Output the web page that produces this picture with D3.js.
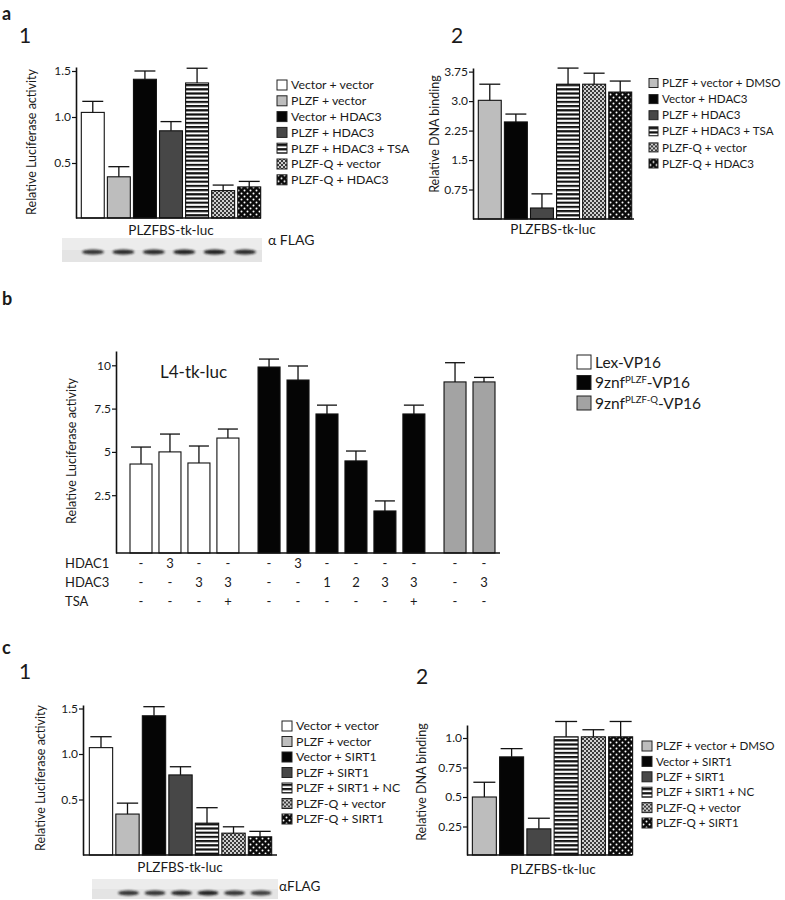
<!DOCTYPE html>
<html><head><meta charset="utf-8">
<script src="https://cdn.jsdelivr.net/npm/d3@7"></script>
<style>
body{margin:0;background:#fff}
svg{display:block}
text{font-family:Lato,"Open Sans",sans-serif;fill:#1a1a1a}
</style>
</head><body>
<svg id="fig" width="785" height="900"></svg>
<script>
// ---------- DATA ----------
const a1Cats = ["Vector + vector","PLZF + vector","Vector + HDAC3","PLZF + HDAC3","PLZF + HDAC3 + TSA","PLZF-Q + vector","PLZF-Q + HDAC3"];
const a1Values = [1.05, 0.35, 1.41, 0.85, 1.37, 0.20, 0.24];
const a1Errors = [0.12, 0.11, 0.09, 0.10, 0.16, 0.06, 0.06];
const a1Fills = ["white","light","black","dark","stripes","checker","dots"];
const a1Ticks = [0.5, 1.0, 1.5];
const a1TickLabels = ["0.5","1.0","1.5"];
const a1Blot = [0.85, 0.9, 0.9, 0.95, 0.95, 0.9];

const a2Cats = ["PLZF + vector + DMSO","Vector + HDAC3","PLZF + HDAC3","PLZF + HDAC3 + TSA","PLZF-Q + vector","PLZF-Q + HDAC3"];
const a2Values = [3.02, 2.47, 0.28, 3.43, 3.43, 3.23];
const a2Errors = [0.41, 0.20, 0.36, 0.41, 0.28, 0.28];
const a2Fills = ["light","black","dark","stripes","checker","dots"];
const a2Ticks = [0.75, 1.5, 2.25, 3.0, 3.75];
const a2TickLabels = ["0.75","1.5","2.25","3.0","3.75"];

const bSeries = ["Lex-VP16","9znf|PLZF|-VP16","9znf|PLZF-Q|-VP16"];
const bFills = ["white","black","gray"];
const bGroups = [0,0,0,0,1,1,1,1,1,1,2,2];
const bValues = [4.30, 5.00, 4.36, 5.80, 9.90, 9.15, 7.19, 4.48, 1.59, 7.19, 9.04, 9.04];
const bErrors = [0.98, 1.03, 0.98, 0.52, 0.46, 0.81, 0.51, 0.57, 0.58, 0.51, 1.11, 0.26];
const bTicks = [2.5, 5, 7.5, 10];
const bTickLabels = ["2.5","5","7.5","10"];
const bRowNames = ["HDAC1","HDAC3","TSA"];
const bHDAC1 = ["-","3","-","-","-","3","-","-","-","-","-","-"];
const bHDAC3 = ["-","-","3","3","-","-","1","2","3","3","-","3"];
const bTSA   = ["-","-","-","+","-","-","-","-","-","+","-","-"];

const c1Cats = ["Vector + vector","PLZF + vector","Vector + SIRT1","PLZF + SIRT1","PLZF + SIRT1 + NC","PLZF-Q + vector","PLZF-Q + SIRT1"];
const c1Values = [1.07, 0.34, 1.42, 0.77, 0.24, 0.13, 0.09];
const c1Errors = [0.12, 0.12, 0.10, 0.09, 0.17, 0.07, 0.06];
const c1Fills = ["white","light","black","dark","stripes","checker","dots"];
const c1Ticks = [0.5, 1.0, 1.5];
const c1TickLabels = ["0.5","1.0","1.5"];
const c1Blot = [0.85, 0.85, 0.9, 0.95, 0.85, 0.8];

const c2Cats = ["PLZF + vector + DMSO","Vector + SIRT1","PLZF + SIRT1","PLZF + SIRT1 + NC","PLZF-Q + vector","PLZF-Q + SIRT1"];
const c2Values = [0.50, 0.84, 0.23, 1.01, 1.01, 1.01];
const c2Errors = [0.125, 0.07, 0.09, 0.13, 0.06, 0.13];
const c2Fills = ["light","black","dark","stripes","checker","dots"];
const c2Ticks = [0.25, 0.5, 0.75, 1.0];
const c2TickLabels = ["0.25","0.5","0.75","1.0"];

// ---------- SETUP ----------
const svg = d3.select("#fig");
const defs = svg.append("defs");

const ps = defs.append("pattern").attr("id","p-stripes").attr("patternUnits","userSpaceOnUse").attr("width",6).attr("height",4.2);
ps.append("rect").attr("width",6).attr("height",4.2).attr("fill","#fff");
ps.append("rect").attr("y",0).attr("width",6).attr("height",2.2).attr("fill","#111");
const pc = defs.append("pattern").attr("id","p-checker").attr("patternUnits","userSpaceOnUse").attr("width",4).attr("height",4);
pc.append("rect").attr("width",4).attr("height",4).attr("fill","#d0d0d0");
pc.append("rect").attr("width",2).attr("height",2).attr("fill","#3a3a3a");
pc.append("rect").attr("x",2).attr("y",2).attr("width",2).attr("height",2).attr("fill","#3a3a3a");
const pd = defs.append("pattern").attr("id","p-dots").attr("patternUnits","userSpaceOnUse").attr("width",6).attr("height",6);
pd.append("rect").attr("width",6).attr("height",6).attr("fill","#0a0a0a");
pd.append("circle").attr("cx",1.5).attr("cy",1.5).attr("r",1).attr("fill","#fff");
pd.append("circle").attr("cx",4.5).attr("cy",4.5).attr("r",1).attr("fill","#fff");
defs.append("filter").attr("id","blur").attr("x","-20%").attr("y","-50%").attr("width","140%").attr("height","200%")
  .append("feGaussianBlur").attr("stdDeviation",1);

const fillMap = {white:"#ffffff", light:"#bdbdbd", black:"#050505", dark:"#474747", gray:"#a3a3a3",
  stripes:"url(#p-stripes)", checker:"url(#p-checker)", dots:"url(#p-dots)"};

function yScale(zeroPx, ppu, base, top){
  return d3.scaleLinear().domain([(zeroPx-base)/ppu, (zeroPx-top)/ppu]).range([base, top]);
}

function drawBars(g, o){
  const gb = g.append("g");
  gb.selectAll("rect.bar").data(o.values).join("rect").attr("class","bar")
    .attr("x",(d,i)=>o.xc(i)-o.bw/2).attr("y",d=>o.y(d))
    .attr("width",o.bw).attr("height",d=>o.base-o.y(d))
    .attr("fill",(d,i)=>fillMap[o.fills[i]]).attr("stroke","#111").attr("stroke-width",1.1);
  gb.selectAll("line.err").data(o.values).join("line").attr("class","err")
    .attr("x1",(d,i)=>o.xc(i)).attr("x2",(d,i)=>o.xc(i))
    .attr("y1",d=>o.y(d)).attr("y2",(d,i)=>o.y(d+o.errors[i]))
    .attr("stroke","#111").attr("stroke-width",1.3);
  gb.selectAll("line.cap").data(o.values).join("line").attr("class","cap")
    .attr("x1",(d,i)=>o.xc(i)-o.bw/2+1).attr("x2",(d,i)=>o.xc(i)+o.bw/2-1)
    .attr("y1",(d,i)=>o.y(d+o.errors[i])).attr("y2",(d,i)=>o.y(d+o.errors[i]))
    .attr("stroke","#111").attr("stroke-width",1.3);
}

function drawAxes(g, o){
  const ax = g.append("g").attr("transform",`translate(${o.axisX},0)`)
    .call(d3.axisLeft(o.y).tickValues(o.ticks).tickFormat((d,i)=>o.tickLabels[i]).tickSize(4).tickSizeOuter(0));
  ax.select(".domain").attr("stroke","#111").attr("stroke-width",1.6);
  ax.selectAll(".tick line").attr("stroke","#111").attr("stroke-width",1.2);
  ax.selectAll(".tick text").attr("font-size",12).attr("font-family","Lato, sans-serif").attr("fill","#1a1a1a").attr("x",-5);
  g.append("line").attr("x1",o.axisX).attr("x2",o.axisEnd).attr("y1",o.base).attr("y2",o.base)
    .attr("stroke","#111").attr("stroke-width",1.6);
  g.append("text").attr("transform",`translate(${o.titleX},${o.titleY}) rotate(-90)`)
    .attr("text-anchor","middle").attr("font-size",12.5).text(o.title);
  if(o.xlabel) g.append("text").attr("x",o.xlabelX).attr("y",o.xlabelY).attr("text-anchor","middle")
    .attr("font-size",13.5).text(o.xlabel);
}

function drawLegend(g, cats, fills, x, y0, step, box, fs){
  const lg = g.append("g");
  const row = lg.selectAll("g").data(cats).join("g").attr("transform",(d,i)=>`translate(${x},${y0+i*step})`);
  row.append("rect").attr("x",0).attr("y",-box/2).attr("width",box).attr("height",box)
    .attr("fill",(d,i)=>fillMap[fills[i]]).attr("stroke","#222").attr("stroke-width",1);
  row.append("text").attr("x",box+4).attr("dy","0.36em").attr("font-size",fs)
    .each(function(d){
      const parts = d.split("|");
      const t = d3.select(this);
      parts.forEach((p,k)=>{
        const ts = t.append("tspan").text(p);
        if(k===1){ ts.attr("font-size",fs*0.62).attr("dy","-0.55em"); }
        if(k===2){ ts.attr("dy", (0.55*0.62)+"em"); }
      });
    });
}

function drawBlot(g, xc, bands, x0, x1, y0, y1, by, bw){
  g.append("rect").attr("x",x0).attr("y",y0).attr("width",x1-x0).attr("height",y1-y0).attr("fill","#e4e4e4");
  g.append("rect").attr("x",x0).attr("y",y0).attr("width",x1-x0).attr("height",(y1-y0)/2).attr("fill","#ececec");
  g.selectAll("ellipse.band").data(bands).join("ellipse").attr("class","band")
    .attr("cx",(d,i)=>xc(i)).attr("cy",by).attr("rx",bw/2).attr("ry",2.6)
    .attr("fill","#151515").attr("opacity",d=>d).attr("filter","url(#blur)");
}

function label(x,y,t,fs,bold){
  svg.append("text").attr("x",x).attr("y",y).attr("font-size",fs)
    .attr("font-weight",bold?"bold":"normal").attr("font-family",bold?"Liberation Sans, Arial, sans-serif":"Lato, sans-serif").text(t);
}

// ---------- PANEL LABELS ----------
label(2,20,"a",18,true);
label(19,43,"1",21,false);
label(451,43,"2",21,false);
label(2,305,"b",18,true);
label(2,654,"c",18,true);
label(19,679,"1",21,false);
label(416,684,"2",21,false);

// ---------- PANEL a1 ----------
{
  const g = svg.append("g");
  const base = 218, top = 67;
  const y = yScale(209, 92, base, top);
  const x = d3.scaleBand().domain(d3.range(a1Values.length)).range([80,262]).paddingInner(0.12).paddingOuter(0.05);
  const xc = i => x(i)+x.bandwidth()/2;
  drawBars(g,{values:a1Values,errors:a1Errors,fills:a1Fills,xc,bw:x.bandwidth(),y,base});
  drawAxes(g,{y,axisX:76,axisEnd:261,base,ticks:a1Ticks,tickLabels:a1TickLabels,
    title:"Relative Luciferase activity",titleX:36,titleY:142,xlabel:"PLZFBS-tk-luc",xlabelX:171,xlabelY:235});
  drawLegend(g,a1Cats,a1Fills,277,85,15.8,10,12.3);
  const bx = d3.scaleLinear().domain([0,a1Blot.length-1]).range([93,245]);
  drawBlot(g,bx,a1Blot,62,262,238,262,252,22);
  g.append("text").attr("x",268).attr("y",245).attr("font-size",14).text("\u03B1 FLAG");
}

// ---------- PANEL a2 ----------
{
  const g = svg.append("g");
  const base = 219, top = 68;
  const y = yScale(219, 39.3, base, top);
  const x = d3.scaleBand().domain(d3.range(a2Values.length)).range([477,633]).paddingInner(0.12).paddingOuter(0.05);
  const xc = i => x(i)+x.bandwidth()/2;
  drawBars(g,{values:a2Values,errors:a2Errors,fills:a2Fills,xc,bw:x.bandwidth(),y,base});
  drawAxes(g,{y,axisX:473,axisEnd:634,base,ticks:a2Ticks,tickLabels:a2TickLabels,
    title:"Relative DNA binding",titleX:439,titleY:134,xlabel:"PLZFBS-tk-luc",xlabelX:553,xlabelY:234});
  drawLegend(g,a2Cats,a2Fills,649,83,16.1,9,11.6);
}

// ---------- PANEL b ----------
{
  const g = svg.append("g");
  const base = 553, top = 351;
  const y = yScale(538.5, 17.32, base, top);
  const gap = 0.42;
  const slots = bValues.map((d,i)=>i+bGroups[i]*gap);
  const xs = d3.scaleLinear().domain([0, d3.max(slots)]).range([141,484]);
  const xc = i => xs(slots[i]);
  const fills = bGroups.map(k=>bFills[k]);
  drawBars(g,{values:bValues,errors:bErrors,fills,xc,bw:22,y,base});
  drawAxes(g,{y,axisX:116,axisEnd:500,base,ticks:bTicks,tickLabels:bTickLabels,
    title:"Relative Luciferase activity",titleX:76,titleY:451});
  g.append("text").attr("x",160).attr("y",378).attr("font-size",17).text("L4-tk-luc");
  drawLegend(g,bSeries,bFills,577,362,20.5,14,15.5);
  const rows = [bHDAC1,bHDAC3,bTSA];
  const rowY = [568,587,606];
  rows.forEach((r,k)=>{
    g.append("text").attr("x",65).attr("y",rowY[k]).attr("font-size",13).text(bRowNames[k]);
    g.selectAll(null).data(r).join("text").attr("x",(d,i)=>xc(i)).attr("y",rowY[k])
      .attr("text-anchor","middle").attr("font-size",13).text(d=>d);
  });
}

// ---------- PANEL c1 ----------
{
  const g = svg.append("g");
  const base = 855, top = 705;
  const y = yScale(845, 91, base, top);
  const x = d3.scaleBand().domain(d3.range(c1Values.length)).range([88,273]).paddingInner(0.12).paddingOuter(0.05);
  const xc = i => x(i)+x.bandwidth()/2;
  drawBars(g,{values:c1Values,errors:c1Errors,fills:c1Fills,xc,bw:x.bandwidth(),y,base});
  drawAxes(g,{y,axisX:83,axisEnd:277,base,ticks:c1Ticks,tickLabels:c1TickLabels,
    title:"Relative Luciferase activity",titleX:45,titleY:778,xlabel:"PLZFBS-tk-luc",xlabelX:180,xlabelY:872});
  drawLegend(g,c1Cats,c1Fills,282,726,15.5,10,12.3);
  drawBlot(g,i=>xc(i+1)+1,c1Blot,92,278,879,899,893,21);
  g.append("text").attr("x",279).attr("y",891).attr("font-size",13.5).text("\u03B1FLAG");
}

// ---------- PANEL c2 ----------
{
  const g = svg.append("g");
  const base = 855, top = 725;
  const y = yScale(856, 118, base, top);
  const x = d3.scaleBand().domain(d3.range(c2Values.length)).range([471,634]).paddingInner(0.12).paddingOuter(0.05);
  const xc = i => x(i)+x.bandwidth()/2;
  drawBars(g,{values:c2Values,errors:c2Errors,fills:c2Fills,xc,bw:x.bandwidth(),y,base});
  drawAxes(g,{y,axisX:467,axisEnd:632,base,ticks:c2Ticks,tickLabels:c2TickLabels,
    title:"Relative DNA binding",titleX:426,titleY:782,xlabel:"PLZFBS-tk-luc",xlabelX:553,xlabelY:874});
  drawLegend(g,c2Cats,c2Fills,642,746,15.4,10,11.6);
}
</script>
</body></html>
